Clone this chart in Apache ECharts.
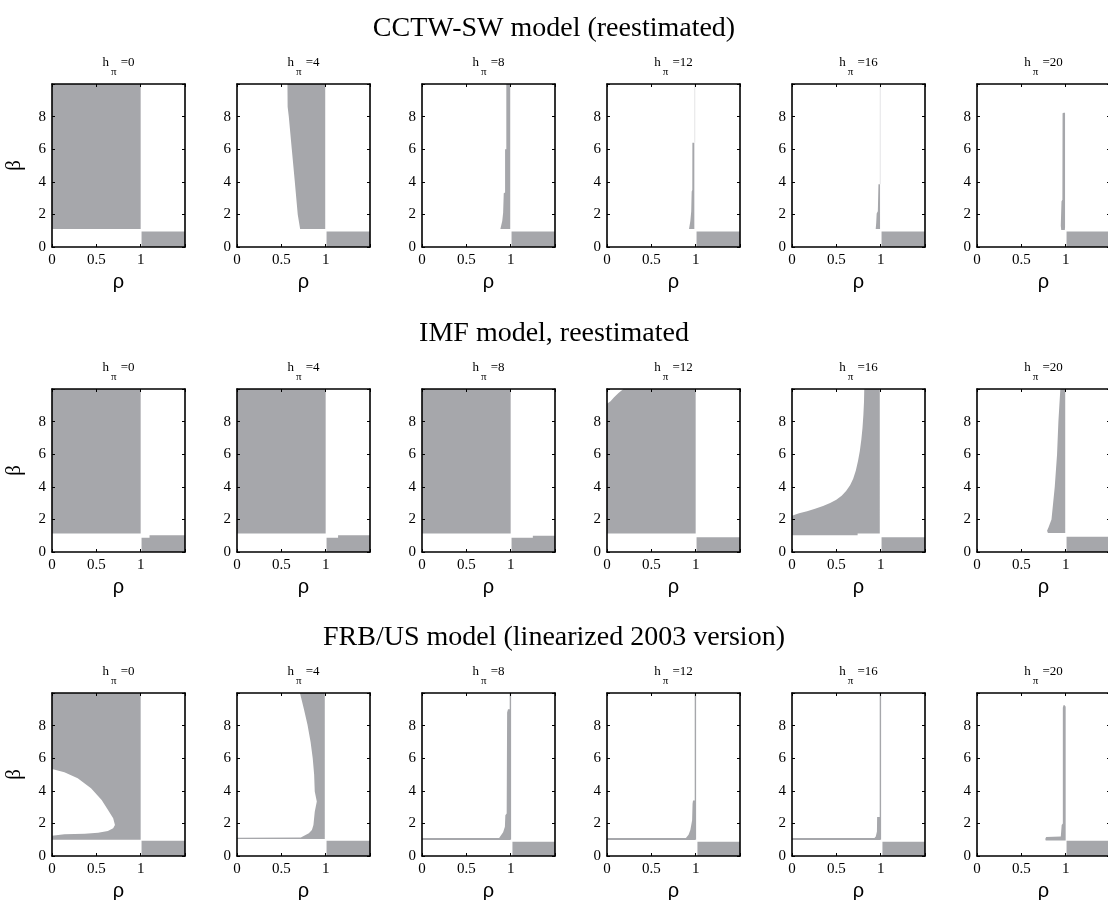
<!DOCTYPE html>
<html><head><meta charset="utf-8">
<script src="https://cdn.jsdelivr.net/npm/echarts/dist/echarts.min.js"></script>
<style>html,body{margin:0;padding:0;background:#fff;}#c{width:1108px;height:900px;}</style>
</head><body><div id="c"></div>
<script>
// ---------- data ----------
const modelTitles = ['CCTW-SW model (reestimated)', 'IMF model, reestimated', 'FRB/US model (linearized 2003 version)'];
const hValues = [0, 4, 8, 12, 16, 20];
const xTickLabels = [0, 0.5, 1];
const yTickLabels = [0, 2, 4, 6, 8];
const rhoRange = [0, 1.5];
const betaRange = [0, 10];

// shaded regions, vertices as [rho, beta]
// CCTW-SW
const cctwH0 = [
  [[0,1.1],[1,1.1],[1,10],[0,10]],
  [[1.01,0],[1.5,0],[1.5,0.95],[1.01,0.95]]
];
const cctwH4 = [
  [[0.712,1.1],[0.995,1.1],[0.995,10],[0.569,10],[0.571,8.6],[0.584,8],[0.618,6],[0.652,4],[0.685,2]],
  [[1.01,0],[1.5,0],[1.5,0.95],[1.01,0.95]]
];
const cctwH8 = [
  [[0.884,1.1],[0.995,1.1],[0.995,10],[0.951,10],[0.951,6.0],[0.937,6.0],[0.937,3.35],[0.922,3.3],[0.915,2.1],[0.905,1.6]],
  [[1.01,0],[1.5,0],[1.5,0.95],[1.01,0.95]]
];
const cctwH12 = [
  [[0.925,1.1],[0.985,1.1],[0.985,6.4],[0.963,6.4],[0.962,3.5],[0.955,3.4],[0.95,2.2],[0.94,1.6]],
  [[1.01,0],[1.5,0],[1.5,0.95],[1.01,0.95]]
];
const cctwH16 = [
  [[0.944,1.1],[0.993,1.1],[0.993,3.85],[0.975,3.85],[0.968,2.2],[0.955,2.05],[0.95,1.5]],
  [[1.01,0],[1.5,0],[1.5,0.95],[1.01,0.95]]
];
const cctwH20 = [
  [[0.95,1.05],[0.99,1.05],[0.993,1.2],[0.993,8.2],[0.985,8.25],[0.965,8.2],[0.963,2.9],[0.953,2.8],[0.945,1.3]],
  [[1.01,0],[1.5,0],[1.5,0.95],[1.01,0.95]]
];
// IMF
const imfH0 = [
  [[0,1.13],[1,1.13],[1,10],[0,10]],
  [[1.01,0],[1.5,0],[1.5,1.02],[1.1,1.02],[1.1,0.88],[1.01,0.88]]
];
const imfH4 = [
  [[0,1.13],[1,1.13],[1,10],[0,10]],
  [[1.01,0],[1.5,0],[1.5,1.02],[1.14,1.02],[1.14,0.88],[1.01,0.88]]
];
const imfH8 = [
  [[0,1.13],[1,1.13],[1,10],[0,10]],
  [[1.01,0],[1.5,0],[1.5,1.0],[1.25,1.0],[1.25,0.88],[1.01,0.88]]
];
const imfH12 = [
  [[0,1.13],[1,1.13],[1,10],[0.185,10],[0.13,9.75],[0.08,9.5],[0.04,9.25],[0,9.1]],
  [[1.01,0],[1.5,0],[1.5,0.91],[1.01,0.91]]
];
const imfH16 = [
  [[0,1.03],[0.74,1.03],[0.74,1.13],[0.99,1.13],[0.99,10],[0.815,10],[0.812,9.2],[0.805,8.4],[0.795,7.6],[0.782,6.9],[0.765,6.2],[0.745,5.6],[0.72,5.0],[0.69,4.5],[0.655,4.1],[0.61,3.75],[0.56,3.45],[0.5,3.2],[0.43,3.0],[0.35,2.82],[0.26,2.65],[0.17,2.5],[0.08,2.37],[0,2.22]],
  [[1.01,0],[1.5,0],[1.5,0.91],[1.01,0.91]]
];
const imfH20 = [
  [[0.80,1.17],[0.995,1.17],[0.995,10],[0.94,10],[0.918,8],[0.903,6],[0.877,4],[0.84,2],[0.806,1.5],[0.79,1.3]],
  [[1.01,0],[1.5,0],[1.5,0.93],[1.01,0.93]]
];
// FRB/US
const frbH0 = [
  [[0,1.0],[1,1.0],[1,10],[0,10],[0,5.33],[0.14,5.14],[0.29,4.77],[0.44,4.16],[0.56,3.44],[0.63,2.83],[0.69,2.32],[0.71,1.9],[0.69,1.7],[0.63,1.54],[0.52,1.43],[0.37,1.37],[0.14,1.33],[0,1.25]],
  [[1.01,0],[1.5,0],[1.5,0.94],[1.01,0.94]]
];
const frbH4 = [
  [[0,1.04],[0.99,1.04],[0.99,10],[0.71,10],[0.755,9],[0.795,8.05],[0.83,7],[0.854,6],[0.87,5],[0.877,3.95],[0.9,3.34],[0.877,2.72],[0.862,1.9],[0.845,1.6],[0.81,1.39],[0.72,1.14],[0,1.12]],
  [[1.01,0],[1.5,0],[1.5,0.94],[1.01,0.94]]
];
const frbH8 = [
  [[0,0.98],[0.995,0.98],[0.995,9.0],[0.97,9.0],[0.96,8.8],[0.955,2.6],[0.94,2.5],[0.935,1.8],[0.915,1.45],[0.87,1.1],[0,1.1]],
  [[1.02,0],[1.5,0],[1.5,0.88],[1.02,0.88]]
];
const frbH12 = [
  [[0,0.98],[0.995,0.98],[0.995,3.4],[0.97,3.4],[0.965,3.2],[0.96,2.2],[0.94,1.6],[0.92,1.3],[0.89,1.1],[0,1.1]],
  [[1.02,0],[1.5,0],[1.5,0.88],[1.02,0.88]]
];
const frbH16 = [
  [[0,0.98],[0.995,0.98],[0.995,2.4],[0.96,2.4],[0.958,1.5],[0.945,1.2],[0.93,1.1],[0,1.1]],
  [[1.02,0],[1.5,0],[1.5,0.88],[1.02,0.88]]
];
const frbH20 = [
  [[0.775,0.95],[1.0,0.95],[1.0,9.15],[0.99,9.25],[0.975,9.25],[0.968,9.1],[0.968,2.0],[0.955,1.9],[0.945,1.2],[0.78,1.16],[0.77,1.05]],
  [[1.01,0],[1.5,0],[1.5,0.94],[1.01,0.94]]
];

// thin boundary lines [rho, beta]
const cctwH12Faint = [[[0.99,6.4],[0.99,10]]];
const cctwH16Faint = [[[0.995,3.85],[0.995,10]]];
const frbH8Edge = [[[0.997,1],[0.997,10]]];
const frbH12Edge = [[[0.997,1],[0.997,10]]];
const frbH16Edge = [[[0.997,1],[0.997,10]]];

// ---------- assembly ----------
const regionTable = [
  [cctwH0, cctwH4, cctwH8, cctwH12, cctwH16, cctwH20],
  [imfH0, imfH4, imfH8, imfH12, imfH16, imfH20],
  [frbH0, frbH4, frbH8, frbH12, frbH16, frbH20]
];
const faintTable = [
  [[], [], [], cctwH12Faint, cctwH16Faint, []],
  [[], [], [], [], [], []],
  [[], [], [], [], [], []]
];
const edgeTable = [
  [[], [], [], [], [], []],
  [[], [], [], [], [], []],
  [[], [], frbH8Edge, frbH12Edge, frbH16Edge, []]
];

// ---------- layout & style ----------
const GRAY = '#a6a7ab';
const SERIF = 'Liberation Serif';
const colLeft = [52, 237, 422, 607, 792, 977];
const rowTop = [84, 389, 693];
const PW = 133, PH = 163;

const grids = [], xAxes = [], yAxes = [], series = [], titles = [];

rowTop.forEach((top, r) => {
  titles.push({
    text: modelTitles[r], left: 'center', top: top - 69, padding: 0,
    textStyle: {fontFamily: SERIF, fontSize: 28, fontWeight: 'normal', color: '#000'}
  });
  colLeft.forEach((left, c) => {
    const g = grids.length;
    grids.push({left: left, top: top, width: PW, height: PH, containLabel: false, outerBoundsMode: 'none'});
    const tok = {fontFamily: SERIF, fontSize: 13, fontWeight: 'normal', color: '#000', height: 12, lineHeight: 12, verticalAlign: 'top'};
    titles.push({
      text: '{h|h}{p|π}{e| =' + hValues[c] + '}',
      left: left + PW / 2, top: top - 27, textAlign: 'center', padding: 0,
      textStyle: {
        fontWeight: 'normal',
        rich: {
          h: tok,
          p: {fontFamily: SERIF, fontSize: 11, fontWeight: 'normal', color: '#000', height: 12, lineHeight: 21, verticalAlign: 'bottom', padding: [0, 1, 0, 2]},
          e: tok
        }
      }
    });
    const line = {show: true, onZero: false, lineStyle: {color: '#000', width: 1.6}};
    const tick = {show: true, inside: true, length: 3, lineStyle: {color: '#000', width: 1}};
    xAxes.push({
      gridIndex: g, type: 'value', position: 'bottom', min: rhoRange[0], max: rhoRange[1], interval: 0.5, z: 10,
      axisLine: line, axisTick: tick, splitLine: {show: false},
      axisLabel: {color: '#000', fontFamily: SERIF, fontSize: 15, margin: 6,
        formatter: v => xTickLabels.indexOf(v) >= 0 ? String(v) : ''},
      name: 'ρ', nameLocation: 'middle', nameGap: 25,
      nameTextStyle: {fontFamily: 'Liberation Sans', fontSize: 20, color: '#000'}
    });
    xAxes.push({
      gridIndex: g, type: 'value', position: 'top', min: rhoRange[0], max: rhoRange[1], interval: 0.5, z: 10,
      axisLine: line, axisTick: tick, splitLine: {show: false}, axisLabel: {show: false}
    });
    const yMain = {
      gridIndex: g, type: 'value', position: 'left', min: betaRange[0], max: betaRange[1], interval: 2, z: 10,
      axisLine: line, axisTick: tick, splitLine: {show: false},
      axisLabel: {color: '#000', fontFamily: SERIF, fontSize: 15, margin: 6,
        formatter: v => yTickLabels.indexOf(v) >= 0 ? String(v) : ''}
    };
    if (c === 0) {
      Object.assign(yMain, {name: 'β', nameLocation: 'middle', nameGap: 27, nameRotate: 90,
        nameTextStyle: {fontFamily: SERIF, fontSize: 21, color: '#000'}});
    }
    yAxes.push(yMain);
    yAxes.push({
      gridIndex: g, type: 'value', position: 'right', min: betaRange[0], max: betaRange[1], interval: 2, z: 10,
      axisLine: line, axisTick: tick, splitLine: {show: false}, axisLabel: {show: false}
    });

    const polys = regionTable[r][c];
    series.push({
      type: 'custom', xAxisIndex: 2 * g, yAxisIndex: 2 * g, silent: true, z: 2,
      data: polys.map(p => p[0]),
      renderItem: (params, api) => ({
        type: 'polygon',
        shape: {points: polys[params.dataIndex].map(pt => api.coord(pt))},
        style: {fill: GRAY, stroke: null}
      })
    });
    const addLines = (arr, color, width) => {
      if (!arr.length) return;
      series.push({
        type: 'custom', xAxisIndex: 2 * g, yAxisIndex: 2 * g, silent: true, z: 3,
        data: arr.map(p => p[0]),
        renderItem: (params, api) => ({
          type: 'polyline',
          shape: {points: arr[params.dataIndex].map(pt => api.coord(pt))},
          style: {stroke: color, lineWidth: width, fill: null}
        })
      });
    };
    addLines(faintTable[r][c], '#e4e4e6', 1);
    addLines(edgeTable[r][c], GRAY, 1.4);
  });
});

const chart = echarts.init(document.getElementById('c'), null, {renderer: 'canvas'});
chart.setOption({
  backgroundColor: '#fff',
  animation: false,
  title: titles,
  grid: grids,
  xAxis: xAxes,
  yAxis: yAxes,
  series: series
});
</script></body></html>
